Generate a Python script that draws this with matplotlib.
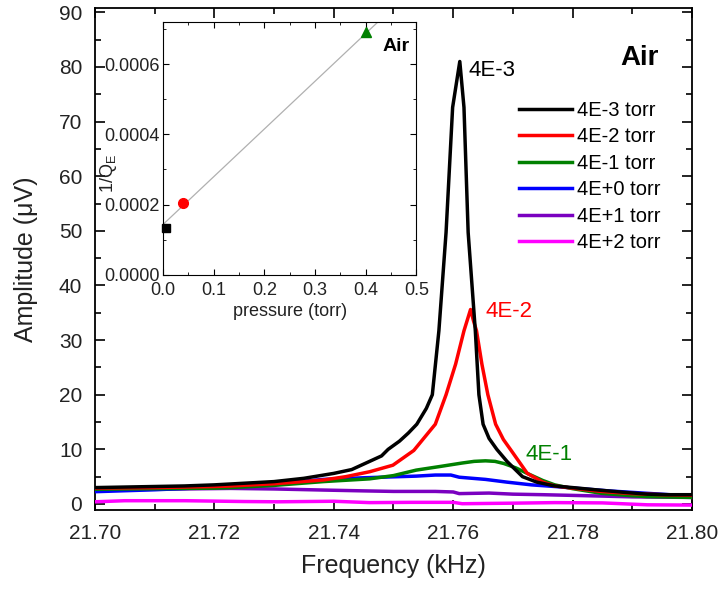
import numpy as np
import matplotlib
matplotlib.use('Agg')
import matplotlib.pyplot as plt
from matplotlib.ticker import MultipleLocator, FormatStrFormatter

plt.rcParams['font.family'] = ['Liberation Sans', 'DejaVu Sans']
plt.rcParams['mathtext.fontset'] = 'custom'
plt.rcParams['mathtext.rm'] = 'Liberation Sans'

# resonance curves (freq in kHz, amplitude in uV)
f_black = [21.700, 21.705, 21.710, 21.715, 21.720, 21.725, 21.730, 21.735, 21.740, 21.743,
           21.746, 21.748, 21.7491, 21.751, 21.7525, 21.7539, 21.7555, 21.7565, 21.7576, 21.7588,
           21.7599, 21.7611, 21.7618, 21.7625, 21.7637, 21.7643, 21.7650, 21.7660, 21.7673, 21.769,
           21.7716, 21.774, 21.777, 21.780, 21.7848, 21.789, 21.7925, 21.796, 21.800]
a_black = [3.0, 3.1, 3.2, 3.3, 3.5, 3.8, 4.1, 4.7, 5.6, 6.3,
           7.8, 8.8, 10.0, 11.5, 13.0, 14.6, 17.5, 20.0, 31.7, 49.7,
           72.6, 81.0, 72.6, 49.7, 31.7, 20.0, 14.6, 12.0, 10.0, 7.8,
           5.0, 4.0, 3.3, 3.0, 2.5, 2.1, 1.8, 1.7, 1.7]

f_red = [21.700, 21.710, 21.720, 21.7228, 21.730, 21.7383, 21.742, 21.746, 21.7499, 21.7534,
         21.7570, 21.7588, 21.7604, 21.7618, 21.7629, 21.7634, 21.7639, 21.7648, 21.7658, 21.7671,
         21.7684, 21.7697, 21.7724, 21.775, 21.777, 21.780, 21.7848, 21.790, 21.795, 21.800]
a_red = [2.9, 3.0, 3.2, 3.3, 3.7, 4.4, 5.0, 5.9, 7.1, 9.8,
         14.6, 20.0, 25.6, 31.7, 35.6, 33.5, 31.7, 25.6, 20.0, 14.6,
         11.8, 9.8, 5.6, 4.0, 3.3, 2.9, 2.3, 1.9, 1.7, 1.6]

f_green = [21.700, 21.710, 21.720, 21.7228, 21.730, 21.7383, 21.746, 21.750, 21.7538, 21.758,
           21.7615, 21.7635, 21.7654, 21.767, 21.7685, 21.7705, 21.7724, 21.775, 21.777, 21.780,
           21.7848, 21.790, 21.7925, 21.800]
a_green = [2.7, 2.8, 2.9, 3.0, 3.4, 4.1, 4.6, 5.2, 6.2, 6.9,
           7.5, 7.8, 7.9, 7.8, 7.4, 6.6, 5.6, 4.3, 3.5, 2.8,
           1.95, 1.5, 1.35, 1.2]

f_blue = [21.700, 21.710, 21.7228, 21.730, 21.7383, 21.745, 21.7538, 21.757, 21.7596, 21.761,
          21.7654, 21.769, 21.7731, 21.777, 21.7809, 21.786, 21.7925, 21.800]
a_blue = [2.25, 2.6, 3.2, 3.7, 4.5, 4.8, 5.1, 5.3, 5.3, 4.9,
          4.5, 4.0, 3.5, 3.2, 2.85, 2.4, 1.95, 1.45]

f_purple = [21.700, 21.710, 21.7228, 21.730, 21.7383, 21.745, 21.750, 21.757, 21.760, 21.761,
            21.766, 21.770, 21.775, 21.7848, 21.790, 21.800]
a_purple = [2.55, 2.7, 2.85, 2.75, 2.55, 2.4, 2.3, 2.3, 2.2, 1.9,
            2.0, 1.8, 1.7, 1.45, 1.3, 1.2]

f_mag = [21.700, 21.705, 21.7151, 21.725, 21.7306, 21.740, 21.746, 21.753, 21.760, 21.7615,
         21.770, 21.7770, 21.785, 21.7925, 21.800]
a_mag = [0.4, 0.6, 0.6, 0.45, 0.4, 0.5, 0.25, 0.3, 0.3, 0.05,
         0.15, 0.25, 0.2, -0.15, -0.2]

labels = ['4E-3 torr', '4E-2 torr', '4E-1 torr', '4E+0 torr', '4E+1 torr', '4E+2 torr']
colors = ['black', '#ff0000', '#008000', '#0000ff', '#7a00c0', '#ff00ff']

# inset: damping vs pressure
p_pts = [0.0053, 0.0395, 0.401]
q_pts = [0.000133, 0.000205, 0.00069]
fit_x = [0.0013, 0.4224]
fit_y = [0.000145, 0.000717]

fig = plt.figure(figsize=(7.24, 5.90), dpi=100)
ax = fig.add_axes([0.131, 0.1356, 0.825, 0.850])

curves = [(f_black, a_black), (f_red, a_red), (f_green, a_green),
          (f_blue, a_blue), (f_purple, a_purple), (f_mag, a_mag)]
for i, (f, a) in enumerate(curves):
    ax.plot(f, a, color=colors[i], lw=2.5, label=labels[i], zorder=10 - i)

ax.set_xlim(21.70, 21.80)
ax.set_ylim(-1.1, 90.7)
ax.xaxis.set_major_locator(MultipleLocator(0.02))
ax.xaxis.set_minor_locator(MultipleLocator(0.01))
ax.yaxis.set_major_locator(MultipleLocator(10))
ax.yaxis.set_minor_locator(MultipleLocator(5))
ax.xaxis.set_major_formatter(FormatStrFormatter('%.2f'))
ax.tick_params(which='both', direction='in', top=True, right=True, labelsize=15, width=1.2,
               labelcolor='#222222')
ax.tick_params(which='major', length=7)
ax.tick_params(which='minor', length=4)
ax.tick_params(axis='x', pad=10)
ax.tick_params(axis='y', pad=9)
for s in ax.spines.values():
    s.set_linewidth(1.3)
ax.set_xlabel('Frequency (kHz)', fontsize=18, labelpad=8, color='#222222')
ax.set_ylabel('Amplitude (\u03bcV)', fontsize=18, color='#222222')
ax.yaxis.set_label_coords(-0.095, 0.5)

ax.text(21.7625, 79.3, '4E-3', color='black', fontsize=16, va='center')
ax.text(21.7654, 35.3, '4E-2', color='#ff0000', fontsize=16, va='center')
ax.text(21.7721, 9.0, '4E-1', color='#008000', fontsize=16, va='center')
ax.text(21.7912, 81.7, 'Air', fontsize=20, fontweight='bold', va='center', ha='center')

ax.legend(loc='upper left', bbox_to_anchor=(0.697, 0.832), frameon=False, fontsize=14.5,
          handlelength=2.6, handletextpad=0.25, labelspacing=0.37, borderaxespad=0)

ins = fig.add_axes([0.225, 0.534, 0.350, 0.429])
ins.plot(fit_x, fit_y, color='#b0b0b0', lw=0.9, zorder=1)
ins.plot(p_pts[0], q_pts[0], 's', color='black', ms=6, zorder=3, clip_on=False)
ins.plot(p_pts[1], q_pts[1], 'o', color='#ff0000', ms=7, zorder=3)
ins.plot(p_pts[2], q_pts[2], '^', color='#008000', ms=7, zorder=3)
ins.set_xlim(0, 0.5)
ins.set_ylim(0, 0.00072)
ins.xaxis.set_major_locator(MultipleLocator(0.1))
ins.xaxis.set_minor_locator(MultipleLocator(0.05))
ins.yaxis.set_major_locator(MultipleLocator(0.0002))
ins.yaxis.set_minor_locator(MultipleLocator(0.0001))
ins.xaxis.set_major_formatter(FormatStrFormatter('%.1f'))
ins.yaxis.set_major_formatter(FormatStrFormatter('%.4f'))
ins.tick_params(which='both', direction='in', top=True, right=True, labelsize=13,
                labelcolor='#222222')
ins.tick_params(which='major', length=4)
ins.tick_params(which='minor', length=2)
ins.tick_params(axis='x', pad=5)
ins.tick_params(axis='y', pad=2)
ins.set_xlabel('pressure (torr)', fontsize=13, labelpad=3, color='#222222')
ins.set_ylabel('1/Q$_\\mathrm{E}$', fontsize=13, color='#222222')
ins.yaxis.set_label_coords(-0.175, 0.40)
ins.text(0.46, 0.00065, 'Air', fontsize=14, fontweight='bold', ha='center', va='center')

fig.savefig('out.png', dpi=100)
